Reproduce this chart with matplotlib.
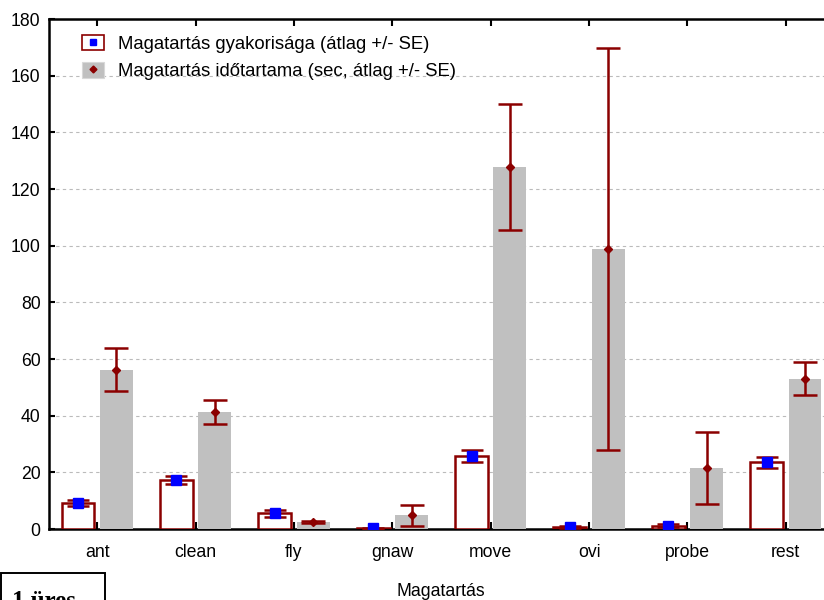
import matplotlib
matplotlib.use("Agg")
import matplotlib.pyplot as plt
from matplotlib.patches import Rectangle
from matplotlib.lines import Line2D
import numpy as np

plt.rcParams['font.family'] = ['Liberation Sans', 'DejaVu Sans']

categories = ["ant", "clean", "fly", "gnaw", "move", "ovi", "probe", "rest"]
freq_mean = [9.1, 17.2, 5.6, 0.2, 25.9, 0.6, 1.2, 23.5]
freq_se = [1.0, 1.4, 1.2, 0.3, 2.1, 0.4, 0.6, 1.9]
dur_mean = [56.2, 41.3, 2.6, 4.8, 127.8, 98.8, 21.5, 53.1]
dur_se = [7.6, 4.3, 0.4, 3.6, 22.3, 71.0, 12.8, 5.8]
y_ticks = [0, 20, 40, 60, 80, 100, 120, 140, 160, 180]

label_freq = "Magatartás gyakorisága (átlag +/- SE)"
label_dur = "Magatartás időtartama (sec, átlag +/- SE)"
x_title = "Magatartás"
corner_text = "1.üres"

darkred = "#8B0000"
grey = "#C0C0C0"

fig = plt.figure(figsize=(8.24, 6.0), dpi=100)
ax = fig.add_axes([49 / 824, 1 - 529 / 600, 787 / 824, 510 / 600])

x = np.arange(len(categories))
w = 0.335
off = 0.195

ax.bar(x - off, freq_mean, width=w, facecolor="white", edgecolor=darkred,
       linewidth=1.8, zorder=3)
ax.bar(x + off, dur_mean, width=w, facecolor=grey, edgecolor="none", zorder=3)

ax.errorbar(x - off, freq_mean, yerr=freq_se, fmt="none", ecolor=darkred,
            elinewidth=1.8, capsize=8, capthick=1.8, zorder=4)
ax.errorbar(x + off, dur_mean, yerr=dur_se, fmt="none", ecolor=darkred,
            elinewidth=1.8, capsize=8.5, capthick=1.8, zorder=4)
ax.plot(x - off, freq_mean, linestyle="none", marker="s", markersize=6.5,
        color="#0000FF", zorder=5)
ax.plot(x + off, dur_mean, linestyle="none", marker="D", markersize=4.5,
        color=darkred, zorder=5)

ax.set_xlim(-0.49, 7.51)
ax.set_ylim(0, 180)
ax.set_yticks(y_ticks)
ax.set_xticks(x)
ax.set_xticklabels(categories)
ax.tick_params(axis="both", labelsize=12.7, direction="in", width=1.5,
               colors="black")
ax.tick_params(axis="x", length=5, top=True, pad=11)
ax.tick_params(axis="y", length=4, pad=6)

ax.yaxis.grid(True, linestyle=(0, (3, 3)), color="#BBBBBB", linewidth=0.8,
              zorder=0)
ax.set_axisbelow(True)
for side in ["left", "top", "bottom"]:
    ax.spines[side].set_linewidth(1.8)
    ax.spines[side].set_color("black")
ax.spines["right"].set_visible(False)

ax.set_xlabel(x_title, fontsize=12.7)
ax.xaxis.set_label_coords((441 - 49) / 787, -0.105)

handles = [
    (Rectangle((0, 0), 1, 1, facecolor="white", edgecolor=darkred, linewidth=1.2),
     Line2D([], [], linestyle="none", marker="s", markersize=5, color="#0000FF")),
    (Rectangle((0, 0), 1, 1, facecolor=grey, edgecolor="#D8D8D8", linewidth=0.8),
     Line2D([], [], linestyle="none", marker="D", markersize=3.5, color=darkred)),
]
ax.legend(handles, [label_freq, label_dur], loc="upper left",
          bbox_to_anchor=(0.0326, 0.984), frameon=False, fontsize=13.3,
          handlelength=1.2, handleheight=0.95, handletextpad=0.75,
          labelspacing=0.5, borderaxespad=0)

# partially visible note box in the lower left corner
fig.patches.append(Rectangle((0.001, -0.05), 104 / 824, 0.05 + 27 / 600,
                             transform=fig.transFigure, facecolor="white",
                             edgecolor="black", linewidth=1.4))
fig.text(12 / 824, -8 / 600, corner_text, fontsize=18, fontweight="bold",
         family=["Liberation Serif", "DejaVu Serif"], ha="left",
         va="baseline")

fig.savefig("out.png", dpi=100)
